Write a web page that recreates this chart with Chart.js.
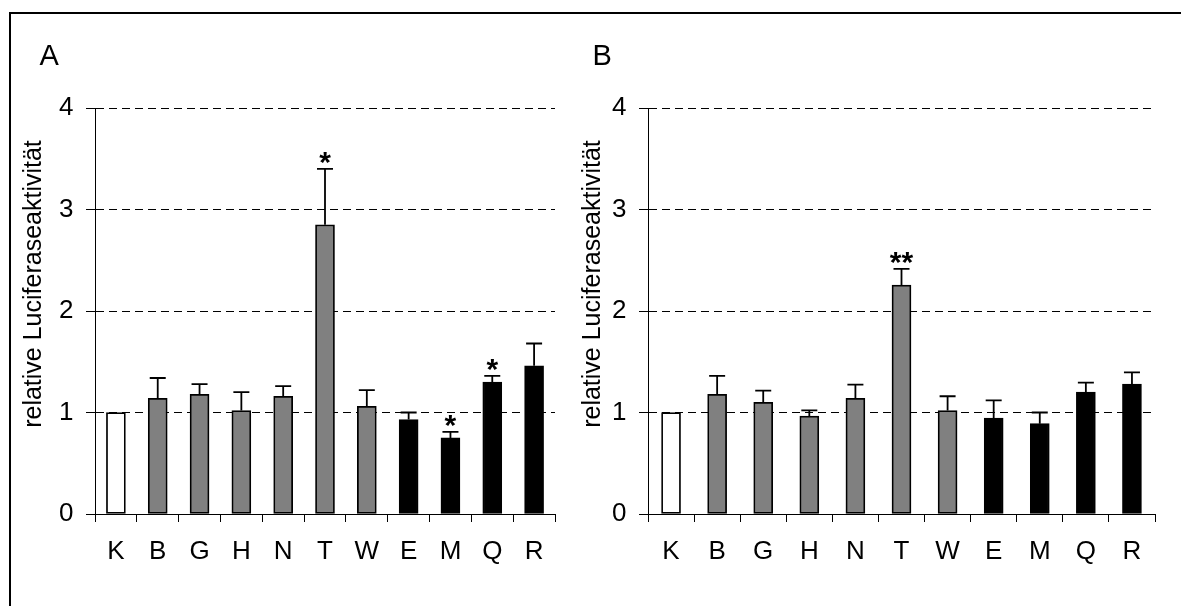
<!DOCTYPE html>
<html>
<head>
<meta charset="utf-8">
<script src="https://cdn.jsdelivr.net/npm/chart.js@4"></script>
<style>
  html, body { margin: 0; padding: 0; background: #fff; }
  #frame { position: absolute; left: 9px; top: 12px; width: 1300px; height: 700px;
           border-left: 2px solid #000; border-top: 2px solid #000; }
  canvas { position: absolute; top: 0; }
  #grafA { left: 0; }
  #grafB { left: 575px; }
</style>
</head>
<body>
<div id="frame"></div>
<canvas id="grafA" width="575" height="606"></canvas>
<canvas id="grafB" width="606" height="606"></canvas>
<script>
const CATEGORIAS = ["K","B","G","H","N","T","W","E","M","Q","R"];
const COLORES = ["#ffffff","#808080","#808080","#808080","#808080","#808080","#808080","#000000","#000000","#000000","#000000"];
const TICKS_Y = [0, 1, 2, 3, 4];
const TITULO_Y = "relative Luciferaseaktivität";

// panel A
const VALORES_A = [1.00, 1.14, 1.18, 1.02, 1.16, 2.85, 1.06, 0.93, 0.75, 1.30, 1.46];
const ERRORES_A = [0.00, 0.20, 0.10, 0.18, 0.10, 0.55, 0.16, 0.07, 0.06, 0.06, 0.22];
const SIGNIF_A  = ["", "", "", "", "", "*", "", "", "*", "*", ""];

// panel B
const VALORES_B = [1.00, 1.18, 1.10, 0.965, 1.14, 2.255, 1.02, 0.945, 0.89, 1.20, 1.28];
const ERRORES_B = [0.00, 0.18, 0.115, 0.055, 0.135, 0.16, 0.14, 0.175, 0.11, 0.095, 0.115];
const SIGNIF_B  = ["", "", "", "", "", "**", "", "", "", "", ""];

const FUENTE = "'Liberation Sans', Arial, sans-serif";

function extras(letra, letraX, tituloX, errores, signif) {
    return {
        id: "extras" + letra,
        afterDatasetsDraw(chart) {
            const ctx = chart.ctx;
            const y = chart.scales.y;
            const meta = chart.getDatasetMeta(0);
            const valores = chart.data.datasets[0].data;
            ctx.save();
            ctx.strokeStyle = "#000";
            ctx.lineWidth = 1.8;
            meta.data.forEach((bar, i) => {
                const top = y.getPixelForValue(valores[i] + errores[i]);
                if (errores[i] > 0) {
                    ctx.beginPath();
                    ctx.moveTo(bar.x, bar.y);
                    ctx.lineTo(bar.x, top);
                    ctx.moveTo(bar.x - 8, top);
                    ctx.lineTo(bar.x + 8, top);
                    ctx.stroke();
                }
                if (signif[i]) {
                    ctx.fillStyle = "#000";
                    ctx.font = "bold 30px " + FUENTE;
                    ctx.textAlign = "center";
                    ctx.textBaseline = "alphabetic";
                    const m = ctx.measureText(signif[i]);
                    ctx.fillText(signif[i], bar.x, top - 5 - m.actualBoundingBoxDescent);
                }
            });
            // panel letter
            ctx.fillStyle = "#000";
            ctx.font = "29px " + FUENTE;
            ctx.textAlign = "left";
            ctx.textBaseline = "alphabetic";
            ctx.fillText(letra, letraX, 64.5);
            // axis title
            ctx.translate(tituloX, 284);
            ctx.rotate(-Math.PI / 2);
            ctx.font = "25px " + FUENTE;
            ctx.textAlign = "center";
            ctx.textBaseline = "middle";
            ctx.fillText(TITULO_Y, 0, 0);
            ctx.restore();
        }
    };
}

function grafica(id, valores, errores, signif, anchoY, padDer, letra, letraX, tituloX) {
    const ctx = document.getElementById(id).getContext("2d");
    return new Chart(ctx, {
        type: "bar",
        data: {
            labels: CATEGORIAS,
            datasets: [{
                data: valores,
                backgroundColor: COLORES,
                borderColor: "#000",
                borderWidth: 1.75,
                borderSkipped: false,
                barThickness: 19
            }]
        },
        options: {
            responsive: false,
            animation: false,
            devicePixelRatio: 1,
            layout: { padding: { left: 0, right: padDer, top: 108, bottom: 0 } },
            scales: {
                x: {
                    afterFit: (s) => { s.height = 92; },
                    grid: { drawOnChartArea: false, drawTicks: true, tickLength: 8, color: "#000", tickColor: "#000" },
                    border: { color: "#000", width: 1 },
                    ticks: { color: "#000", padding: 14, font: { family: FUENTE, size: 26 } }
                },
                y: {
                    min: 0,
                    max: 4,
                    afterFit: (s) => { s.width = anchoY; },
                    afterBuildTicks: (s) => { s.ticks = TICKS_Y.map(v => ({ value: v })); },
                    grid: { color: "#000", lineWidth: 1, tickLength: 9, tickColor: "#000", tickBorderDash: [] },
                    border: { color: "#000", width: 1, dash: [8, 5] },
                    ticks: { color: "#000", padding: 12.5, font: { family: FUENTE, size: 26 } }
                }
            },
            plugins: {
                legend: { display: false },
                tooltip: { enabled: false }
            }
        },
        plugins: [extras(letra, letraX, tituloX, errores, signif)]
    });
}

window.onload = () => {
    grafica("grafA", VALORES_A, ERRORES_A, SIGNIF_A, 95, 20, "A", 39.5, 34.5);
    grafica("grafB", VALORES_B, ERRORES_B, SIGNIF_B, 73, 26, "B", 17.5, 18);
};
</script>
</body>
</html>
